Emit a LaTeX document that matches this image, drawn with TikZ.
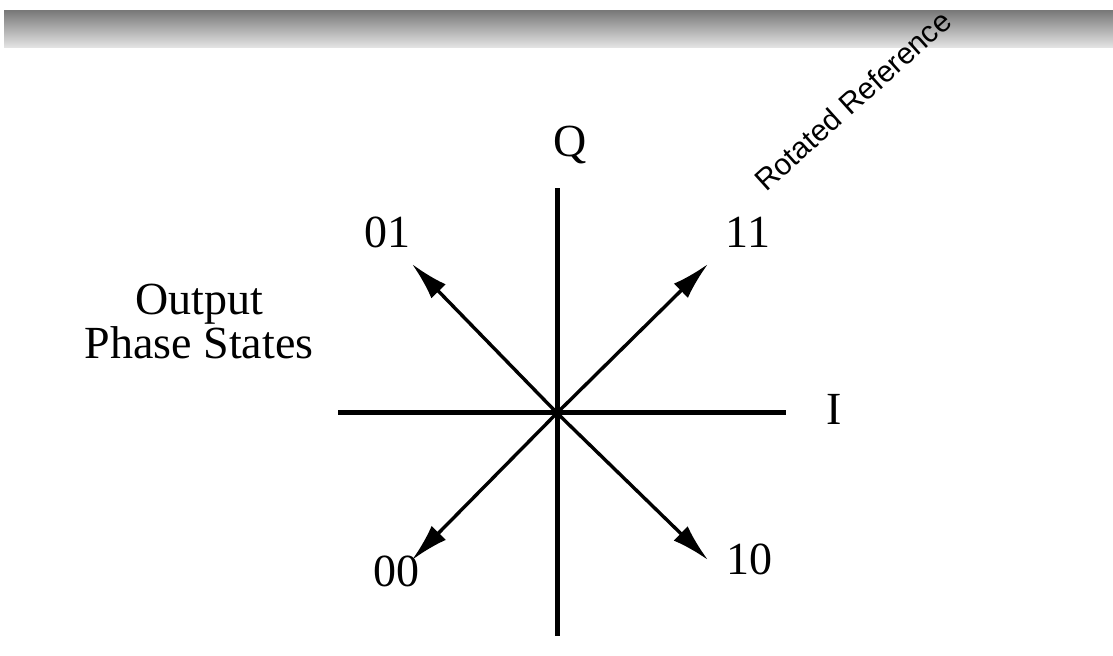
\documentclass[tikz,border=0pt]{standalone}
\usepackage{fontspec}
\setmainfont{Liberation Serif}
\newfontfamily\refsans{Liberation Sans}
\usetikzlibrary{arrows.meta, positioning}

\begin{document}
\begin{tikzpicture}[x=0.5pt, y=-0.5pt,
  axis/.style={line width=2.5pt},
  phasearrow/.style={line width=1.7pt, -{Latex[length=19pt, width=10pt]}},
  lbl/.style={font=\fontsize{23}{27}\selectfont, inner sep=0pt, anchor=base}]
\useasboundingbox (0,0) rectangle (1113,656);
\fill[white] (0,0) rectangle (1113,656);

% Header bar
\shade[top color=black!52, bottom color=black!10] (4,11) rectangle (1113,48);

% Axes
\coordinate (O) at (557,413);
\coordinate (qtop) at (557,188);
\coordinate (qbot) at (557,636);
\coordinate (ileft) at (338,413);
\coordinate (iright) at (786,413);
\draw[axis] (qbot) -- (qtop);
\draw[axis] (ileft) -- (iright);
\node[lbl] (qlab) at (570,157) {Q};
\node[lbl] (ilab) at (834,425) {I};

% Phase states
\coordinate (s11) at (708,264);
\coordinate (s01) at (412,264);
\coordinate (s00) at (412,560);
\coordinate (s10) at (708,560);
\foreach \s in {s11, s01, s00, s10}
  \draw[phasearrow] (O) -- (\s);
\node[lbl] (lab01) at (387,248) {01};
\node[lbl] (lab11) at (748,248) {11};
\node[lbl] (lab00) at (396,587) {00};
\node[lbl] (lab10) at (749,575) {10};

% Captions
\node[lbl] (outlab) at (199,315) {Output};
\node[lbl, below=22pt of outlab.base, anchor=base] (phaselab) {Phase States};
\node[font=\refsans\fontsize{15}{17}\selectfont, rotate=42, anchor=base west, inner sep=0pt] (rotref) at (766,193) {Rotated Reference};
\end{tikzpicture}
\end{document}
